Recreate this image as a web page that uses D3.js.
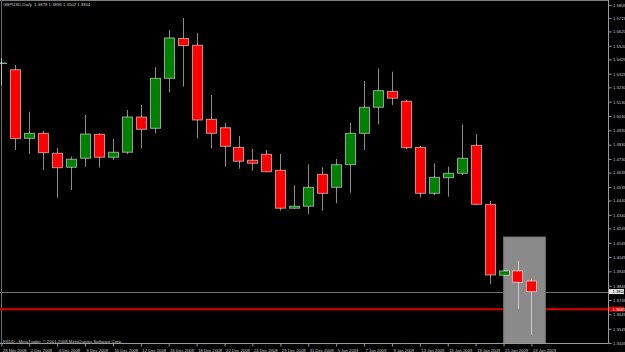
<!DOCTYPE html>
<html>
<head>
<meta charset="utf-8">
<script src="https://cdn.jsdelivr.net/npm/d3@7"></script>
<style>
  body { margin: 0; background: #000; }
  svg { display: block; }
  text { font-family: "Liberation Sans", Arial, sans-serif; }
</style>
</head>
<body>
<div id="chart"></div>
<script>
var dates = ["28 Nov 2008","1 Dec 2008","2 Dec 2008","3 Dec 2008","4 Dec 2008","5 Dec 2008",
  "8 Dec 2008","9 Dec 2008","10 Dec 2008","11 Dec 2008","12 Dec 2008","15 Dec 2008",
  "16 Dec 2008","17 Dec 2008","18 Dec 2008","19 Dec 2008","22 Dec 2008","23 Dec 2008",
  "24 Dec 2008","26 Dec 2008","29 Dec 2008","30 Dec 2008","31 Dec 2008","2 Jan 2009",
  "5 Jan 2009","6 Jan 2009","7 Jan 2009","8 Jan 2009","9 Jan 2009","12 Jan 2009",
  "13 Jan 2009","14 Jan 2009","15 Jan 2009","16 Jan 2009","19 Jan 2009","20 Jan 2009",
  "21 Jan 2009","22 Jan 2009","23 Jan 2009"];

var open  = [1.5400,1.5353,1.4874,1.4909,1.4770,1.4672,1.4735,1.4902,1.4742,1.4777,1.5023,1.4944,
  1.5293,1.5571,1.5524,1.5007,1.4948,1.4811,1.4721,1.4763,1.4651,1.4386,1.4400,1.4623,
  1.4532,1.4690,1.4909,1.5091,1.5202,1.5133,1.4811,1.4490,1.4599,1.4630,1.4825,1.4413,
  1.3918,1.3948,1.3878];
var high  = [1.5435,1.5386,1.5060,1.4927,1.4807,1.4746,1.5037,1.4909,1.4869,1.5072,1.5107,1.5370,
  1.5630,1.5714,1.5607,1.5177,1.4983,1.4890,1.4800,1.4793,1.4765,1.4546,1.4693,1.4672,
  1.4730,1.4983,1.5274,1.5363,1.5339,1.5142,1.4821,1.4700,1.4676,1.4972,1.4904,1.4437,
  1.3955,1.4018,1.3896];
var low   = [1.5246,1.4793,1.4765,1.4653,1.4460,1.4513,1.4676,1.4669,1.4723,1.4763,1.4804,1.4909,
  1.5195,1.5235,1.4874,1.4804,1.4676,1.4662,1.4648,1.4641,1.4369,1.4383,1.4344,1.4369,
  1.4420,1.4494,1.4793,1.4972,1.5107,1.4798,1.4460,1.4478,1.4467,1.4618,1.4410,1.3855,
  1.3913,1.3682,1.3502];
var close = [1.5400,1.4872,1.4909,1.4774,1.4669,1.4728,1.4904,1.4742,1.4777,1.5023,1.4937,1.5293,
  1.5575,1.5522,1.5002,1.4909,1.4818,1.4714,1.4700,1.4641,1.4386,1.4400,1.4532,1.4490,
  1.4690,1.4909,1.5091,1.5207,1.5154,1.4809,1.4490,1.4602,1.4630,1.4735,1.4413,1.3920,
  1.3948,1.3869,1.3804];

var priceTicks = [1.5805,1.5715,1.5620,1.5520,1.5425,1.5325,1.5230,1.5130,1.5030,1.4930,
  1.4830,1.4730,1.4635,1.4535,1.4440,1.4340,1.4245,1.4145,1.4045,1.3945,1.3845,1.3745,
  1.3645,1.3545,1.3445];

var bidLine = 1.3804;
var redLine = 1.3681;
// rectangle object: bar index from/to, price top/bottom
var box = { from: 36, to: 39, top: 1.4185, bottom: 1.3300 };

var title = "GBPUSD,Daily  1.3878 1.3896 1.3502 1.3804";
var footer = "FXDD - MetaTrader, \u00a9 2001-2008 MetaQuotes Software Corp.";

var W = 625, H = 352;
var plotR = 608, plotB = 343;

var svg = d3.select('#chart').append('svg')
  .attr('width', W)
  .attr('height', H)
  .style('background', '#000');

var x = d3.scaleLinear().domain([0, 39]).range([1.35, 545.4]);
var y = d3.scaleLinear().domain([1.3445, 1.5805]).range([plotB, 5]);
var bodyW = (x(1) - x(0)) * 0.72;

svg.append('clipPath').attr('id', 'plot')
  .append('rect')
  .attr('x', 0).attr('y', 0)
  .attr('width', plotR).attr('height', plotB);

var plot = svg.append('g').attr('clip-path', 'url(#plot)');

// frame
plot.append('line')
  .attr('x1', 0).attr('x2', plotR).attr('y1', 0.5).attr('y2', 0.5)
  .attr('stroke', '#808080');
plot.append('line')
  .attr('x1', 1.5).attr('x2', 1.5).attr('y1', 0).attr('y2', plotB)
  .attr('stroke', '#6a6a6a');

// price lines
plot.append('line')
  .attr('x1', 0).attr('x2', plotR)
  .attr('y1', Math.round(y(bidLine)) + 0.5).attr('y2', Math.round(y(bidLine)) + 0.5)
  .attr('stroke', '#707070');
plot.append('line')
  .attr('x1', 0).attr('x2', plotR)
  .attr('y1', y(redLine)).attr('y2', y(redLine))
  .attr('stroke', '#e00000')
  .attr('stroke-width', 2);

// rectangle object
plot.append('rect')
  .attr('x', x(box.from))
  .attr('y', y(box.top))
  .attr('width', x(box.to) - x(box.from))
  .attr('height', y(box.bottom) - y(box.top))
  .attr('fill', '#8a8a8a')
  .attr('stroke', '#6e6e6e');

var idx = d3.range(dates.length);

// wicks
plot.selectAll('.wick')
  .data(idx).enter().append('line')
  .attr('class', 'wick')
  .attr('x1', function(i){ return Math.round(x(i)) + 0.5 })
  .attr('x2', function(i){ return Math.round(x(i)) + 0.5 })
  .attr('y1', function(i){ return y(high[i]) })
  .attr('y2', function(i){ return y(low[i]) })
  .attr('stroke', '#ffffff')
  .attr('stroke-opacity', 0.55);

// bodies
plot.selectAll('.body')
  .data(idx).enter().append('rect')
  .attr('class', 'body')
  .attr('x', function(i){ return Math.round(x(i) - bodyW / 2) + 0.5 })
  .attr('y', function(i){ return y(Math.max(open[i], close[i])) })
  .attr('width', Math.round(bodyW))
  .attr('height', function(i){ return Math.max(0.5, Math.abs(y(open[i]) - y(close[i]))) })
  .attr('fill', function(i){ return close[i] >= open[i] ? '#008000' : '#ff0000' })
  .attr('stroke', '#ffffff')
  .attr('stroke-opacity', 0.55);

// right price axis
var yAxis = svg.append('g')
  .attr('transform', 'translate(' + (plotR + 0.5) + ',0)')
  .call(d3.axisRight(y).tickValues(priceTicks).tickSize(3).tickPadding(1.5)
    .tickFormat(d3.format('.4f')));
yAxis.select('.domain').attr('stroke', '#9a9a9a').attr('d', 'M0,0V' + (plotB + 0.5));
yAxis.selectAll('line').attr('stroke', '#9a9a9a');
yAxis.selectAll('text')
  .attr('fill', '#c8c8c8')
  .attr('font-size', '4.2px');

// bottom date axis
var labelIdx = idx.filter(function(i){ return i % 2 === 0 });
var xAxis = svg.append('g')
  .attr('transform', 'translate(0,' + (plotB + 0.5) + ')')
  .call(d3.axisBottom(x).tickValues(labelIdx).tickSize(3).tickPadding(3)
    .tickFormat(function(i){ return dates[i] }));
xAxis.select('.domain').attr('stroke', '#9a9a9a').attr('d', 'M0,0H' + (plotR + 0.5));
xAxis.selectAll('line').attr('stroke', '#9a9a9a');
xAxis.selectAll('text')
  .attr('text-anchor', 'start')
  .attr('x', 1)
  .attr('fill', '#c8c8c8')
  .attr('font-size', '4.2px');

// price markers on the axis
var markers = [[bidLine, '#e8e8e8', '#000000'], [redLine, '#e00000', '#ffffff']];
var mk = svg.selectAll('.marker')
  .data(markers).enter().append('g')
  .attr('class', 'marker')
  .attr('transform', function(d){ return 'translate(' + (plotR + 1) + ',' + y(d[0]) + ')' });
mk.append('rect')
  .attr('x', 0).attr('y', -2.5)
  .attr('width', 15).attr('height', 5)
  .attr('fill', function(d){ return d[1] });
mk.append('text')
  .attr('x', 3.5).attr('y', 0).attr('dy', '0.35em')
  .attr('font-size', '4.2px')
  .attr('fill', function(d){ return d[2] })
  .text(function(d){ return d3.format('.4f')(d[0]) });

// captions
svg.append('text')
  .attr('x', 3).attr('y', 6)
  .attr('font-size', '4.3px')
  .attr('fill', '#c8c8c8')
  .attr('xml:space', 'preserve')
  .text(title);
svg.append('text')
  .attr('x', 3).attr('y', 342.5)
  .attr('font-size', '4.3px')
  .attr('fill', '#c8c8c8')
  .text(footer);
</script>
</body>
</html>
